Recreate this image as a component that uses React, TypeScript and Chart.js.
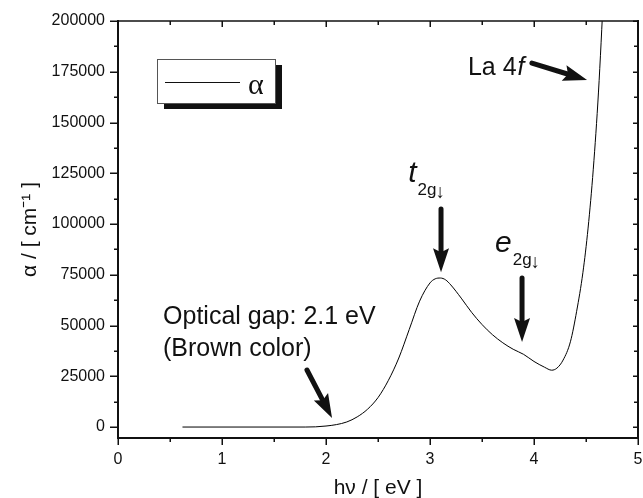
import React, { useEffect, useRef } from "react";
import { Chart, registerables } from "chart.js";

Chart.register(...registerables);

// ---- data (photon energy in eV, absorption coefficient in cm^-1) ----
const energy = [0.62, 1.0, 1.5, 1.8, 1.9, 2.0, 2.1, 2.2, 2.3, 2.4, 2.5, 2.6, 2.7, 2.8, 2.9, 3.0, 3.05, 3.1, 3.15, 3.2, 3.3, 3.4, 3.5, 3.6, 3.7, 3.8, 3.9, 4.0, 4.1, 4.17, 4.22, 4.28, 4.35, 4.41, 4.47, 4.52, 4.57, 4.62, 4.67];
const alpha = [0, 0, 0, 0, 100, 500, 1200, 2500, 5000, 8800, 14500, 23000, 34000, 48000, 62000, 71000, 73000, 73400, 72500, 70000, 63500, 56500, 50500, 45500, 41500, 38300, 35800, 32300, 29500, 28000, 29000, 33000, 42000, 57000, 76000, 98000, 127000, 165000, 215000];

const xTickValues = [0, 1, 2, 3, 4, 5];
const xMinorValues = [0.5, 1.5, 2.5, 3.5, 4.5];
const yTickValues = [0, 25000, 50000, 75000, 100000, 125000, 150000, 175000, 200000];
const yMinorValues = [12500, 37500, 62500, 87500, 112500, 137500, 162500, 187500];

const seriesLabel = "α";
const xTitle = "hν / [ eV ]";
const yTitle = "α / [ cm⁻¹ ]";

// annotation arrows: [x1, y1, x2(tip), y2(tip)] in data units
const arrowGap = [1.817, 28100, 2.058, 4400];
const arrowT2g = [3.106, 107400, 3.106, 76300];
const arrowE2g = [3.885, 73400, 3.885, 41900];
const arrowLa = [3.98, 179300, 4.51, 170900];

const SANS = "'Liberation Sans', Arial, sans-serif";
const SERIF = "'Liberation Serif', 'Times New Roman', serif";
const INK = "#111";

function drawArrow(ctx: CanvasRenderingContext2D, x1: number, y1: number, x2: number, y2: number, headL = 24, halfW = 8) {
  const dx = x2 - x1, dy = y2 - y1;
  const len = Math.hypot(dx, dy);
  const ux = dx / len, uy = dy / len;
  const px = -uy, py = ux;
  const bx = x2 - ux * headL, by = y2 - uy * headL;
  ctx.lineWidth = 5;
  ctx.lineCap = "round";
  ctx.beginPath();
  ctx.moveTo(x1, y1);
  ctx.lineTo(bx + ux * 6, by + uy * 6);
  ctx.stroke();
  ctx.beginPath();
  ctx.moveTo(x2, y2);
  ctx.lineTo(bx + px * halfW, by + py * halfW);
  ctx.lineTo(bx + ux * 4, by + uy * 4);
  ctx.lineTo(bx - px * halfW, by - py * halfW);
  ctx.closePath();
  ctx.fill();
}

const framePlugin = {
  id: "frameTicks",
  afterDraw(chart: any) {
    const { ctx, chartArea, scales } = chart;
    const { left, right, top, bottom } = chartArea;
    const x = scales.x, y = scales.y;
    ctx.save();
    ctx.strokeStyle = INK;
    ctx.lineCap = "butt";
    ctx.lineWidth = 1.5;
    const vt = (vals: number[], outLen: number, inLen: number) => {
      vals.forEach((v) => {
        const px = Math.round(x.getPixelForValue(v)) + 0.25;
        ctx.beginPath(); ctx.moveTo(px, bottom); ctx.lineTo(px, bottom + outLen); ctx.stroke();
        ctx.beginPath(); ctx.moveTo(px, top); ctx.lineTo(px, top + inLen); ctx.stroke();
      });
    };
    vt(xTickValues, 7, 6);
    vt(xMinorValues, 4, 4);
    const ht = (vals: number[], outLen: number, inLen: number) => {
      vals.forEach((v) => {
        const py = Math.round(y.getPixelForValue(v)) + 0.25;
        ctx.beginPath(); ctx.moveTo(left, py); ctx.lineTo(left - outLen, py); ctx.stroke();
        ctx.beginPath(); ctx.moveTo(right, py); ctx.lineTo(right - inLen, py); ctx.stroke();
      });
    };
    ht(yTickValues, 8, 5);
    ht(yMinorValues, 4, 4);
    ctx.lineWidth = 2;
    ctx.beginPath(); ctx.moveTo(left, top - 1); ctx.lineTo(left, bottom + 1); ctx.stroke();
    ctx.beginPath(); ctx.moveTo(left - 1, bottom); ctx.lineTo(right + 1, bottom); ctx.stroke();
    ctx.beginPath(); ctx.moveTo(right, top - 1); ctx.lineTo(right, bottom + 1); ctx.stroke();
    ctx.lineWidth = 1.5;
    ctx.beginPath(); ctx.moveTo(left, top); ctx.lineTo(right, top); ctx.stroke();
    ctx.restore();
  },
};

const annotationPlugin = {
  id: "annotations",
  afterDatasetsDraw(chart: any) {
    const { ctx, scales } = chart;
    const X = (v: number) => scales.x.getPixelForValue(v);
    const Y = (v: number) => scales.y.getPixelForValue(v);
    ctx.save();
    ctx.fillStyle = INK;
    ctx.strokeStyle = INK;

    // legend box with shadow
    const lx = 157, ly = 59, lw = 118, lh = 44;
    ctx.fillStyle = "#111";
    ctx.fillRect(lx + 7, ly + 6, lw, lh);
    ctx.fillStyle = "#fff";
    ctx.fillRect(lx, ly, lw, lh);
    ctx.lineWidth = 1;
    ctx.strokeStyle = "#555";
    ctx.strokeRect(lx + 0.5, ly + 0.5, lw, lh);
    ctx.strokeStyle = INK;
    ctx.beginPath(); ctx.moveTo(lx + 8, ly + 23.5); ctx.lineTo(lx + 83, ly + 23.5); ctx.stroke();
    ctx.fillStyle = INK;
    ctx.textBaseline = "alphabetic";
    ctx.font = `30px ${SERIF}`;
    ctx.fillText(chart.data.datasets[0].label, lx + 91, ly + 35);

    // text annotations
    ctx.font = `25px ${SANS}`;
    ctx.fillText("Optical gap: 2.1 eV", X(0.433), Y(50700));
    ctx.fillText("(Brown color)", X(0.433), Y(35000));

    const laX = X(3.365), laY = Y(173400);
    ctx.fillText("La 4", laX, laY);
    const laW = ctx.measureText("La 4").width;
    ctx.font = `italic 25px ${SANS}`;
    ctx.fillText("f", laX + laW + 1, laY);

    const orbital = (main: string, xv: number, yv: number) => {
      const mx = X(xv), my = Y(yv);
      ctx.font = `italic 30px ${SANS}`;
      ctx.fillText(main, mx, my);
      const mw = ctx.measureText(main).width;
      ctx.font = `17px ${SANS}`;
      ctx.fillText("2g", mx + mw + 1, my + 13);
      const sw = ctx.measureText("2g").width;
      ctx.font = `19px ${SANS}`;
      ctx.fillText("↓", mx + mw + sw, my + 16);
    };
    orbital("t", 2.79, 120700);
    orbital("e", 3.625, 86200);

    const arrows = [arrowGap, arrowT2g, arrowE2g, arrowLa];
    arrows.forEach((a) => drawArrow(ctx, X(a[0]), Y(a[1]), X(a[2]), Y(a[3])));
    ctx.restore();
  },
};

export default function App() {
  const canvasRef = useRef<HTMLCanvasElement | null>(null);

  useEffect(() => {
    const canvas = canvasRef.current;
    if (!canvas) return;
    const points = energy.map((e, i) => ({ x: e, y: alpha[i] }));
    const tickFont = { family: SANS, size: 16 };
    const chart = new Chart(canvas, {
      type: "line",
      data: {
        datasets: [
          {
            label: seriesLabel,
            data: points,
            borderColor: "#000",
            borderWidth: 1,
            pointRadius: 0,
            fill: false,
            cubicInterpolationMode: "monotone",
          },
        ],
      },
      options: {
        animation: false,
        responsive: false,
        devicePixelRatio: 1,
        layout: { padding: { top: 21, right: 5, left: 0, bottom: 0 } },
        plugins: { legend: { display: false }, tooltip: { enabled: false } },
        scales: {
          x: {
            type: "linear",
            min: 0,
            max: 5,
            afterBuildTicks: (s: any) => { s.ticks = xTickValues.map((v) => ({ value: v })); },
            afterFit: (s: any) => { s.height = 60; s.paddingLeft = 0; s.paddingRight = 0; },
            grid: { display: false, drawTicks: false },
            border: { display: false },
            ticks: { padding: 12, color: INK, font: tickFont, maxRotation: 0, autoSkip: false, callback: (v: any) => String(v) },
            title: { display: true, text: xTitle, color: INK, font: { family: SANS, size: 21, lineHeight: 1 }, padding: { top: 0, bottom: -1 } },
          },
          y: {
            type: "linear",
            min: -5400,
            max: 200000,
            afterBuildTicks: (s: any) => { s.ticks = yTickValues.map((v) => ({ value: v })); },
            afterFit: (s: any) => { s.width = 118; s.paddingTop = 0; s.paddingBottom = 0; },
            grid: { display: false, drawTicks: false },
            border: { display: false },
            ticks: { padding: 13, color: INK, font: tickFont, autoSkip: false, callback: (v: any) => String(v) },
            title: { display: true, text: yTitle, color: INK, font: { family: SANS, size: 21, lineHeight: 1 }, padding: { top: 20, bottom: 0 } },
          },
        },
      },
      plugins: [framePlugin, annotationPlugin],
    } as any);
    return () => chart.destroy();
  }, []);

  return (
    <div style={{ position: "fixed", left: 0, top: 0, width: 643, height: 498, background: "#fff" }}>
      <canvas ref={canvasRef} width={643} height={498} style={{ display: "block", width: 643, height: 498 }} />
    </div>
  );
}
